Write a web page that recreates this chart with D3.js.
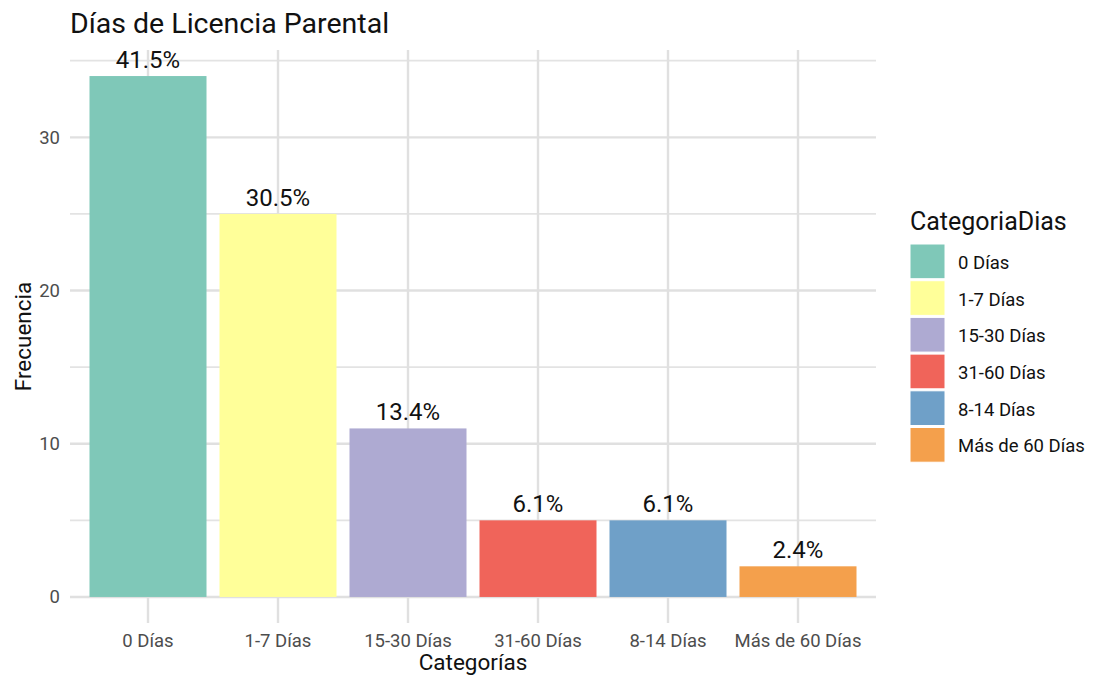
<!DOCTYPE html>
<html>
<head>
<meta charset="utf-8">
<script src="https://cdn.jsdelivr.net/npm/d3@7"></script>
<style>
  html, body { margin: 0; padding: 0; background: #fff; }
  svg { display: block; font-family: Roboto, "Noto Sans", sans-serif; }
</style>
</head>
<body>
<svg id="chart" width="1094" height="678"></svg>
<script>
// Parental leave days: counts per category
const categories = ["0 Días", "1-7 Días", "15-30 Días", "31-60 Días", "8-14 Días", "Más de 60 Días"];
const counts = [34, 25, 11, 5, 5, 2];
const percentLabels = ["41.5%", "30.5%", "13.4%", "6.1%", "6.1%", "2.4%"];
const colors = ["#7fc8b8", "#ffff99", "#aeaad2", "#f0645a", "#6fa0c8", "#f4a04c"];
const majorTicks = [0, 10, 20, 30];
const minorTicks = [5, 15, 25, 35];

const svg = d3.select("#chart");
const panel = { left: 70, right: 876, top: 50, bottom: 623 };

const maxVal = d3.max(counts);
const pad = maxVal * 0.05;
const y = d3.scaleLinear()
  .domain([-pad, maxVal * 1.05])
  .range([panel.bottom, panel.top]);

const x = d3.scaleBand()
  .domain(categories)
  .range([panel.left, panel.right])
  .paddingInner(0.1)
  .paddingOuter(0.15);

const grid = svg.append("g");
// horizontal grid
grid.selectAll("line.minor").data(minorTicks).join("line")
  .attr("x1", panel.left).attr("x2", panel.right)
  .attr("y1", d => y(d)).attr("y2", d => y(d))
  .attr("stroke", "#e3e3e3").attr("stroke-width", 1.8);
grid.selectAll("line.major").data(majorTicks).join("line")
  .attr("x1", panel.left).attr("x2", panel.right)
  .attr("y1", d => y(d)).attr("y2", d => y(d))
  .attr("stroke", "#e0e0e0").attr("stroke-width", 2.4);
// vertical grid at category centres
grid.selectAll("line.v").data(categories).join("line")
  .attr("x1", d => x(d) + x.bandwidth() / 2).attr("x2", d => x(d) + x.bandwidth() / 2)
  .attr("y1", panel.top).attr("y2", panel.bottom)
  .attr("stroke", "#e0e0e0").attr("stroke-width", 2.4);

// bars
svg.append("g").selectAll("rect").data(categories).join("rect")
  .attr("x", d => x(d))
  .attr("width", x.bandwidth())
  .attr("y", (d, i) => y(counts[i]))
  .attr("height", (d, i) => y(0) - y(counts[i]))
  .attr("fill", (d, i) => colors[i]);

// value labels
svg.append("g").selectAll("text").data(categories).join("text")
  .attr("x", d => x(d) + x.bandwidth() / 2)
  .attr("y", (d, i) => y(counts[i]) - 8)
  .attr("text-anchor", "middle")
  .attr("font-size", 24)
  .attr("fill", "#111")
  .text((d, i) => percentLabels[i]);

// y axis labels
svg.append("g").selectAll("text").data(majorTicks).join("text")
  .attr("x", 60)
  .attr("y", d => y(d))
  .attr("dy", "0.35em")
  .attr("text-anchor", "end")
  .attr("font-size", 18.5)
  .attr("fill", "#4d4d4d")
  .text(d => d);

// x axis labels
svg.append("g").selectAll("text").data(categories).join("text")
  .attr("x", d => x(d) + x.bandwidth() / 2)
  .attr("y", 647)
  .attr("text-anchor", "middle")
  .attr("font-size", 18.5)
  .attr("fill", "#4d4d4d")
  .text(d => d);

// titles
svg.append("text")
  .attr("x", 70).attr("y", 33)
  .attr("font-size", 28.5)
  .attr("fill", "#111")
  .text("Días de Licencia Parental");

svg.append("text")
  .attr("x", (panel.left + panel.right) / 2).attr("y", 670)
  .attr("text-anchor", "middle")
  .attr("font-size", 22.5)
  .attr("fill", "#111")
  .text("Categorías");

svg.append("text")
  .attr("transform", `translate(31,${(panel.top + panel.bottom) / 2}) rotate(-90)`)
  .attr("text-anchor", "middle")
  .attr("font-size", 22.5)
  .attr("fill", "#111")
  .text("Frecuencia");

// legend
const legend = svg.append("g").attr("transform", "translate(910,0)");
legend.append("text")
  .attr("x", 0).attr("y", 230)
  .attr("font-size", 25)
  .attr("fill", "#111")
  .text("CategoriaDias");
const keyH = 36.7;
const items = legend.selectAll("g.item").data(categories).join("g")
  .attr("transform", (d, i) => `translate(0,${244 + i * keyH})`);
items.append("rect")
  .attr("x", 0).attr("y", 0)
  .attr("width", 35).attr("height", keyH - 2)
  .attr("fill", (d, i) => colors[i])
  .attr("stroke", "#fff").attr("stroke-width", 1);
items.append("text")
  .attr("x", 48).attr("y", keyH / 2)
  .attr("dy", "0.35em")
  .attr("font-size", 18.5)
  .attr("fill", "#111")
  .text(d => d);
</script>
</body>
</html>
